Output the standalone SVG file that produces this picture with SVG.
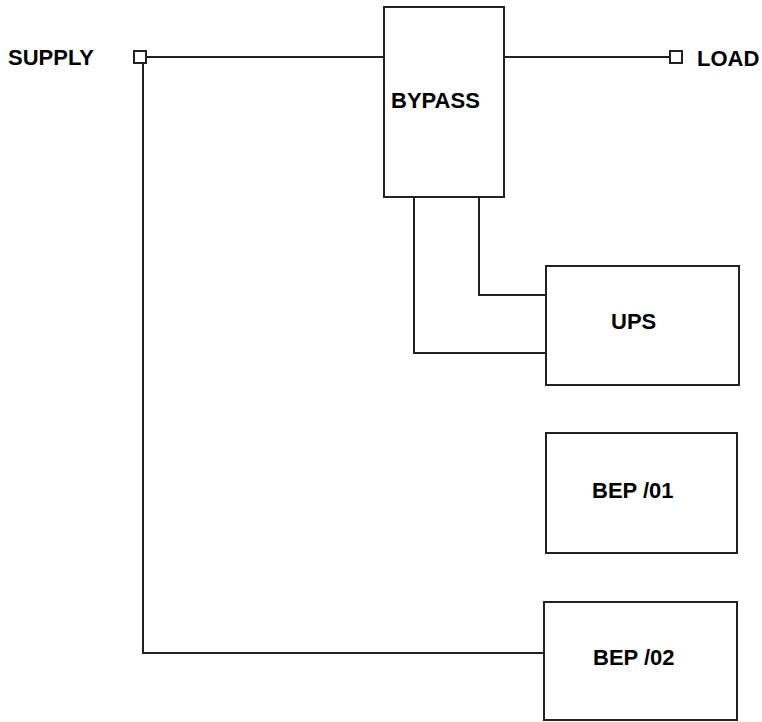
<svg xmlns="http://www.w3.org/2000/svg" width="762" height="722" viewBox="0 0 762 722">
<style>
.box{fill:#fff;stroke:#222;stroke-width:2}
.term{fill:#fff;stroke:#222;stroke-width:2}
.wire{fill:none;stroke:#222;stroke-width:2}
.lbl{font-family:"Liberation Sans",Arial,sans-serif;font-weight:bold;font-size:22px;fill:#000}
</style>
<rect width="762" height="722" fill="#fff"/>
<g id="connectors">
<polyline class="wire" points="146,57 384,57"/>
<polyline class="wire" points="504,57 670,57"/>
<polyline class="wire" points="143,63 143,653 545,653"/>
<polyline class="wire" points="414,197 414,353 546,353"/>
<polyline class="wire" points="479,197 479,295 546,295"/>
</g>
<g id="supply">
<rect class="term" x="134" y="51" width="12" height="12"/>
<text class="lbl" x="8" y="65">SUPPLY</text>
</g>
<g id="load">
<rect class="term" x="670" y="51" width="12" height="12"/>
<text class="lbl" x="697" y="66">LOAD</text>
</g>
<g id="bypass">
<rect class="box" x="384" y="7" width="120" height="190"/>
<text class="lbl" x="391" y="108">BYPASS</text>
</g>
<g id="ups">
<rect class="box" x="546" y="266" width="193" height="119"/>
<text class="lbl" x="611" y="329">UPS</text>
</g>
<g id="bep01">
<rect class="box" x="546" y="433" width="191" height="120"/>
<text class="lbl" x="592" y="498">BEP /01</text>
</g>
<g id="bep02">
<rect class="box" x="544" y="602" width="193" height="118"/>
<text class="lbl" x="593" y="665">BEP /02</text>
</g>
</svg>
